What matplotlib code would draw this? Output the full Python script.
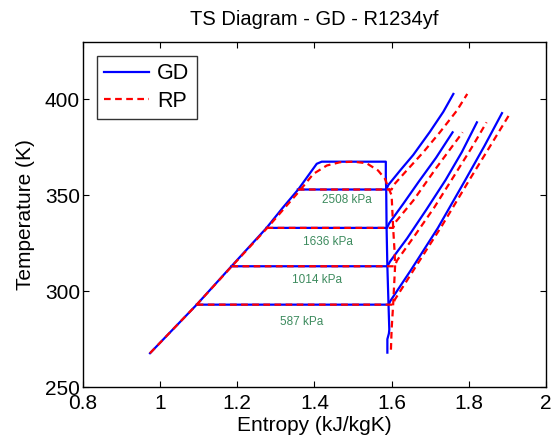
import matplotlib
matplotlib.use('Agg')
import matplotlib.pyplot as plt

# saturation dome (liquid side + top + vapour side), GD model
gd_dome_s = [0.974, 1.095, 1.185, 1.276, 1.318, 1.358, 1.406, 1.419, 1.585,
             1.585, 1.586, 1.587, 1.589, 1.592, 1.594, 1.593, 1.589, 1.589]
gd_dome_T = [267.7, 293, 313, 333, 343.5, 353, 366.4, 367.5, 367.5,
             360, 353, 333, 313, 293, 280, 278, 275, 268]

# saturation dome, RP model
rp_dome_s = [0.974, 1.095, 1.186, 1.278, 1.328, 1.362, 1.397, 1.432, 1.466, 1.501,
             1.535, 1.565, 1.583, 1.591, 1.600, 1.604, 1.608, 1.609, 1.604, 1.600, 1.598]
rp_dome_T = [267.7, 293, 313, 333, 344.6, 352.4, 361.1, 365.5, 367.2, 367.5,
             366.7, 362.9, 358.5, 354.2, 350, 333, 319.6, 313, 293, 280, 268]

pressures = ['2508 kPa', '1636 kPa', '1014 kPa', '587 kPa']

# isobars: horizontal part across the dome + superheated part
gd_iso_s = [
    [1.357, 1.586, 1.592, 1.622, 1.656, 1.699, 1.734, 1.760],
    [1.276, 1.588, 1.594, 1.630, 1.670, 1.715, 1.758],
    [1.185, 1.589, 1.596, 1.640, 1.690, 1.740, 1.782, 1.821],
    [1.095, 1.592, 1.597, 1.650, 1.720, 1.790, 1.840, 1.886],
]
gd_iso_T = [
    [353, 353, 355.5, 362.9, 371, 383, 393.5, 402.8],
    [333, 333, 335.5, 345.5, 357, 369.5, 382.8],
    [313, 313, 315.5, 327.5, 342.5, 358, 372.5, 388],
    [293, 293, 295, 311, 333, 357.6, 375.5, 392.8],
]
rp_iso_s = [
    [1.357, 1.600, 1.606, 1.639, 1.682, 1.725, 1.769, 1.796],
    [1.276, 1.604, 1.610, 1.656, 1.717, 1.784],
    [1.185, 1.608, 1.614, 1.660, 1.710, 1.760, 1.805, 1.846],
    [1.095, 1.604, 1.608, 1.660, 1.730, 1.800, 1.855, 1.907],
]
rp_iso_T = [
    [353, 353, 355.5, 362.9, 372.4, 382.8, 394.1, 402.8],
    [333, 333, 336, 347.2, 364.6, 382.8],
    [313, 313, 316, 329, 343.5, 359.5, 374, 388],
    [293, 293, 295.5, 312, 334, 357.5, 375.5, 392.7],
]

label_s = [1.484, 1.434, 1.406, 1.367]
label_T = [347.7, 325.9, 305.6, 283.9]

plt.rcParams['font.family'] = ['Liberation Sans', 'DejaVu Sans']

fig = plt.figure(figsize=(5.56, 4.44), dpi=100)
ax = fig.add_axes([0.149, 0.128, 0.833, 0.778])

blue = '#0000ff'
red = '#ff0000'
lw = 1.6

ax.plot(gd_dome_s, gd_dome_T, color=blue, lw=lw, label='GD')
for s, T in zip(gd_iso_s, gd_iso_T):
    ax.plot(s, T, color=blue, lw=lw)

ax.plot(rp_dome_s, rp_dome_T, color=red, lw=lw, ls=(0, (3, 2)), label='RP')
for s, T in zip(rp_iso_s, rp_iso_T):
    ax.plot(s, T, color=red, lw=lw, ls=(0, (3, 2)))

for txt, s, T in zip(pressures, label_s, label_T):
    ax.text(s, T, txt, color='#3d8b5e', fontsize=8.5, ha='center', va='center')

ax.set_xlim(0.8, 2.0)
ax.set_ylim(250, 430)
ax.set_xticks([0.8, 1.0, 1.2, 1.4, 1.6, 1.8, 2.0])
ax.set_xticklabels(['0.8', '1', '1.2', '1.4', '1.6', '1.8', '2'])
ax.set_yticks([250, 300, 350, 400])
ax.tick_params(direction='in', top=True, right=True, labelsize=15, length=4, pad=2)
ax.tick_params(axis='x', pad=5)
for sp in ax.spines.values():
    sp.set_linewidth(1.0)

ax.set_xlabel('Entropy (kJ/kgK)', fontsize=15, labelpad=2)
ax.set_ylabel('Temperature (K)', fontsize=15, labelpad=7)
ax.set_title('TS Diagram - GD - R1234yf', fontsize=14.5, pad=12)

leg = ax.legend(loc='upper left', bbox_to_anchor=(0.03, 0.96), borderaxespad=0,
                fontsize=15.5, frameon=True, fancybox=False, edgecolor='black',
                handlelength=2.1, borderpad=0.35, labelspacing=0.3, handletextpad=0.35)
leg.get_frame().set_linewidth(1.0)

fig.savefig('out.png', dpi=100)
